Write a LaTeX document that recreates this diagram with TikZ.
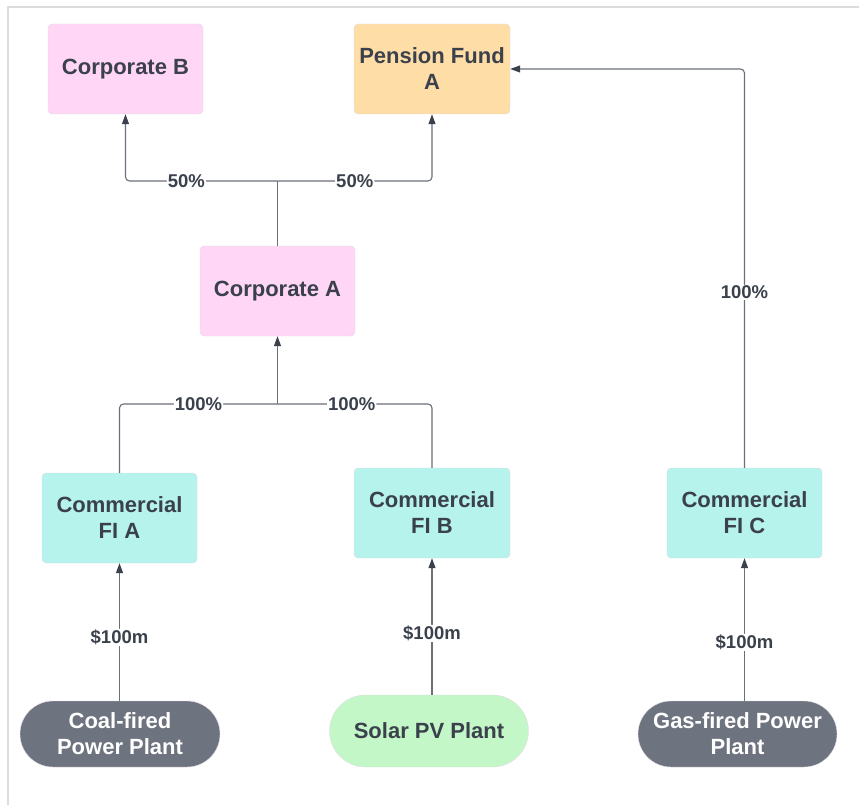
\documentclass[tikz,border=0pt]{standalone}
\usepackage{fontspec}
\setmainfont{Liberation Sans}
\usetikzlibrary{calc,arrows.meta}

\definecolor{boxpink}{HTML}{FFD6F6}
\definecolor{boxorange}{HTML}{FEDDA6}
\definecolor{boxteal}{HTML}{B5F3EC}
\definecolor{plantgreen}{HTML}{C4F7C8}
\definecolor{plantgray}{HTML}{6E7380}
\definecolor{boxline}{HTML}{E2DDE4}
\definecolor{linkgray}{HTML}{6A707A}
\definecolor{textdark}{HTML}{3B414C}
\definecolor{framegray}{HTML}{DCDCDC}

\begin{document}
\begin{tikzpicture}[x=1pt,y=-1pt,
    box/.style={draw=boxline, rounded corners=4pt, minimum width=155pt, minimum height=90pt,
        inner sep=0pt, align=center, text=textdark, font=\fontsize{22}{26}\selectfont\bfseries},
    plant/.style={draw=boxline, rounded corners=33pt, minimum width=199pt, minimum height=66pt,
        inner sep=0pt, align=center, font=\fontsize{22}{26}\selectfont\bfseries},
    link/.style={draw=linkgray, line width=1.1pt, rounded corners=4pt},
    tip/.style={-{Triangle[length=10pt,width=7pt,color=textdark]}},
    lbl/.style={fill=white, inner sep=1pt, text=textdark, font=\fontsize{18.5}{20}\selectfont\bfseries}]

    % 外枠
    \useasboundingbox (0,0) rectangle (859,805);
    \draw [framegray, line width=2pt] (859,7) -- (8,7) -- (8,805);

    % ノードの定義
    \node [box, fill=boxpink] (corpB) at (125.5,69) {Corporate B};
    \node [box, fill=boxorange, minimum width=156pt] (penA) at (432,69) {Pension Fund\\A};
    \node [box, fill=boxpink] (corpA) at (277.5,291) {Corporate A};
    \node [box, fill=boxteal] (fiA) at (119.5,518) {Commercial\\FI A};
    \node [box, fill=boxteal, minimum width=156pt] (fiB) at (432,513) {Commercial\\FI B};
    \node [box, fill=boxteal] (fiC) at (744.5,513) {Commercial\\FI C};
    \node [plant, fill=plantgray, text=white, minimum width=200pt] (coal) at (120,734) {Coal-fired\\Power Plant};
    \node [plant, fill=plantgreen, text=textdark, minimum height=72pt, rounded corners=36pt] (solar) at (429,731) {Solar PV Plant};
    \node [plant, fill=plantgray, text=white] (gas) at (737.5,734) {Gas-fired Power\\Plant};

    % 分岐点
    \coordinate (topJ) at (corpA.north |- 0,181);
    \coordinate (midJ) at (corpA.south |- 0,404);

    % 線・矢印の描画
    \draw [link] (corpA.north) -- (topJ);
    \draw [link, tip] (topJ) -| node [lbl, pos=0.30] {50\%} (corpB.south);
    \draw [link, tip] (topJ) -| node [lbl, pos=0.25] {50\%} (penA.south);
    \draw [link] (fiA.north) |- node [lbl, pos=0.75] {100\%} (midJ);
    \draw [link] (fiB.north) |- node [lbl, pos=0.76] {100\%} (midJ);
    \draw [link, tip] (midJ) -- (corpA.south);
    \draw [link, tip] (fiC.north) |- node [lbl, pos=0.22] {100\%} (penA.east);
    \draw [link, tip] (coal.north -| fiA.south) -- node [lbl, pos=0.46] {\$100m} (fiA.south);
    \draw [link, tip] (solar.north -| fiB.south) -- node [lbl, pos=0.45] {\$100m} (fiB.south);
    \draw [link, tip] (gas.north -| fiC.south) -- node [lbl, pos=0.41] {\$100m} (fiC.south);

\end{tikzpicture}
\end{document}
